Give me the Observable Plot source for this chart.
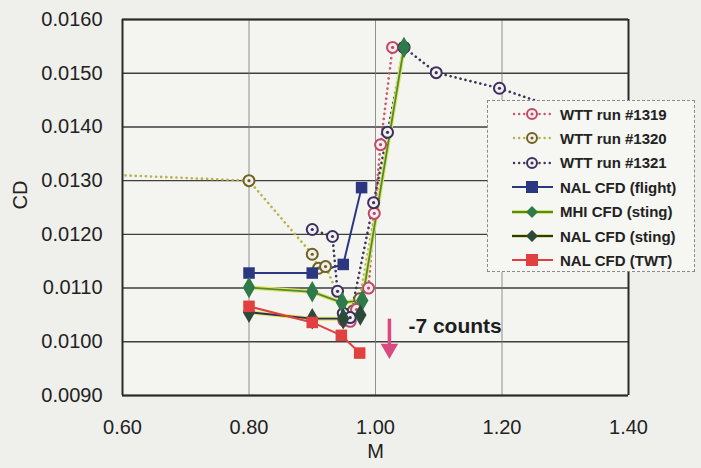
<!DOCTYPE html>
<html><head><meta charset="utf-8">
<script src="https://cdn.jsdelivr.net/npm/d3@7"></script>
<script src="https://cdn.jsdelivr.net/npm/@observablehq/plot@0.6"></script>
<style>
body{margin:0;background:#efefec;}
#wrap{position:relative;width:701px;height:468px;font-family:"Liberation Sans",Arial,sans-serif;}
#legend{position:absolute;left:487px;top:100px;width:206px;height:170px;border:1px dashed #8a8a8a;background:#f6f6f3;}
.row{position:absolute;left:0;height:24px;display:flex;align-items:center;font-weight:bold;font-size:15px;color:#222;}
.row svg{margin-right:4px;}
</style></head><body><div id="wrap"><div id="chart"></div><div id="legend"></div></div>
<script>
// ---- ticks ----
const xTicks = [0.60, 0.80, 1.00, 1.20, 1.40];
const yTicks = [0.0090, 0.0100, 0.0110, 0.0120, 0.0130, 0.0140, 0.0150, 0.0160];

// ---- WTT runs (dotted, open circles) ----
const wtt1319_M  = [0.950, 0.960, 0.970, 0.989, 0.998, 1.008, 1.027];
const wtt1319_CD = [0.01040, 0.01038, 0.01060, 0.01100, 0.01239, 0.01367, 0.01548];

const wtt1320_M  = [0.50, 0.80, 0.90, 0.910, 0.921, 0.955, 0.965, 0.975, 1.045];
const wtt1320_CD = [0.01315, 0.01300, 0.01163, 0.01137, 0.01140, 0.01050, 0.01058, 0.01080, 0.01548];

const wtt1321_M  = [0.90, 0.932, 0.940, 0.949, 0.960, 0.997, 1.019, 1.045, 1.096, 1.196, 1.30];
const wtt1321_CD = [0.01209, 0.01196, 0.01094, 0.01053, 0.01045, 0.01259, 0.01390, 0.01548, 0.01501, 0.01472, 0.01430];

// ---- CFD (solid) ----
const nalFlight_M  = [0.80, 0.90, 0.949, 0.978];
const nalFlight_CD = [0.01128, 0.01128, 0.01144, 0.01287];

const mhiSting_M  = [0.80, 0.90, 0.947, 0.979, 1.045];
const mhiSting_CD = [0.01101, 0.01093, 0.01073, 0.01077, 0.01548];

const nalSting_M  = [0.80, 0.90, 0.949, 0.976];
const nalSting_CD = [0.01055, 0.01043, 0.01043, 0.01050];

const nalTWT_M  = [0.80, 0.90, 0.946, 0.975];
const nalTWT_CD = [0.01066, 0.01036, 0.01012, 0.00979];

// ---- annotation ----
const arrowM = 1.022, arrowFrom = 0.01043, arrowTo = 0.00975;
const noteM = 1.052, noteCD = 0.01028, noteText = "-7 counts";

const names = ["WTT run #1319","WTT run #1320","WTT run #1321","NAL CFD (flight)","MHI CFD (sting)","NAL CFD (sting)","NAL CFD (TWT)"];

const zip = (M, CD) => M.map((m, i) => ({M: m, CD: CD[i]}));
const s1319 = zip(wtt1319_M, wtt1319_CD);
const s1320 = zip(wtt1320_M, wtt1320_CD);
const s1321 = zip(wtt1321_M, wtt1321_CD);
const sFlight = zip(nalFlight_M, nalFlight_CD);
const sMHI = zip(mhiSting_M, mhiSting_CD);
const sNALs = zip(nalSting_M, nalSting_CD);
const sTWT = zip(nalTWT_M, nalTWT_CD);

const C = {
  p1319: "#c24a68", l1319: "#c85a6a",
  p1320: "#6e6420", l1320: "#b9b24a",
  p1321: "#3c3060", l1321: "#3e3458",
  flight: "#2c3782",
  mhiLine: "#4f8a3a", mhiGlow: "#e0e45e", mhiPt: "#2f7a4a",
  nsLine: "#2a2f55", nsPt: "#2c4a3a",
  twt: "#e04040",
  arrow: "#d84a80"
};

const dotted = {strokeDasharray: "0.1,5", strokeLinecap: "round", strokeWidth: 2.6};
const circ = (data, col) => [
  Plot.dot(data, {x: "M", y: "CD", r: 5.5, stroke: col, strokeWidth: 2, fill: "#f3efee", clip: true}),
  Plot.dot(data, {x: "M", y: "CD", r: 1.6, fill: col, clip: true})
];

const plot = Plot.plot({
  width: 701, height: 468,
  marginLeft: 122, marginRight: 73, marginTop: 19, marginBottom: 73,
  x: {domain: [0.6, 1.4]},
  y: {domain: [0.009, 0.016]},
  style: {fontFamily: "Liberation Sans, Arial, sans-serif", background: "transparent", color: "#222"},
  marks: [
    Plot.frame({fill: "#f4f4f1"}),
    Plot.gridY(yTicks, {stroke: "#3e3e3e", strokeOpacity: 1, strokeWidth: 1.4}),
    Plot.gridX([0.8, 1.0, 1.2], {stroke: "#777", strokeOpacity: 1, strokeWidth: 0.8}),
    Plot.ruleX([0.6, 1.4], {stroke: "#2a2a2a", strokeWidth: 2}),
    Plot.ruleY([0.009, 0.016], {stroke: "#2a2a2a", strokeWidth: 2}),
    Plot.axisY({ticks: yTicks, tickFormat: d3.format(".4f"), tickSize: 0, tickPadding: 20, fontSize: 20, label: null}),
    Plot.axisX({ticks: xTicks, tickFormat: d3.format(".2f"), tickSize: 0, tickPadding: 24, fontSize: 20, label: null}),
    Plot.text(["CD"], {frameAnchor: "left", dx: -102, dy: 2, rotate: -90, fontSize: 20, fill: "#222"}),
    Plot.text(["M"], {frameAnchor: "bottom", dy: 62, fontSize: 20, fill: "#222"}),
    // WTT lines
    Plot.line(s1320, {x: "M", y: "CD", stroke: C.l1320, ...dotted, clip: true}),
    Plot.line(s1319, {x: "M", y: "CD", stroke: C.l1319, ...dotted, clip: true}),
    Plot.line(s1321, {x: "M", y: "CD", stroke: C.l1321, ...dotted, clip: true}),
    // CFD lines
    Plot.line(sNALs, {x: "M", y: "CD", stroke: C.mhiGlow, strokeWidth: 4}),
    Plot.line(sMHI, {x: "M", y: "CD", stroke: C.mhiGlow, strokeWidth: 4}),
    Plot.line(sNALs, {x: "M", y: "CD", stroke: C.nsLine, strokeWidth: 1.8}),
    Plot.line(sMHI, {x: "M", y: "CD", stroke: C.mhiLine, strokeWidth: 1.8}),
    Plot.line(sFlight, {x: "M", y: "CD", stroke: C.flight, strokeWidth: 2}),
    Plot.line(sTWT, {x: "M", y: "CD", stroke: C.twt, strokeWidth: 2}),
    // markers
    ...circ(s1320, C.p1320),
    ...circ(s1319, C.p1319),
    ...circ(s1321, C.p1321),
    Plot.dot(sFlight, {x: "M", y: "CD", symbol: "square", r: 6.5, fill: C.flight}),
    Plot.dot(sMHI, {x: "M", y: "CD", symbol: "diamond", r: 6.5, fill: C.mhiPt}),
    Plot.dot(sNALs, {x: "M", y: "CD", symbol: "diamond", r: 6.5, fill: C.nsPt}),
    Plot.dot(sTWT, {x: "M", y: "CD", symbol: "square", r: 6.5, fill: C.twt}),
    // annotation
    Plot.link([0], {x1: () => arrowM, x2: () => arrowM, y1: () => arrowFrom, y2: () => arrowTo + 0.0002, stroke: C.arrow, strokeWidth: 3.5}),
    Plot.dot([0], {x: () => arrowM, y: () => arrowTo + 0.00012, symbol: "triangle", r: 6.5, rotate: 180, fill: C.arrow}),
    Plot.text([noteText], {x: () => noteM, y: () => noteCD, textAnchor: "start", fontSize: 21, fontWeight: "bold", fill: "#1e1e1e"})
  ]
});
document.getElementById("chart").append(plot);

// ---- legend ----
const legend = document.getElementById("legend");
const legendSpec = [
  {kind: "wtt", line: C.l1319, pt: C.p1319},
  {kind: "wtt", line: C.l1320, pt: C.p1320},
  {kind: "wtt", line: C.l1321, pt: C.p1321},
  {kind: "square", line: C.flight, pt: C.flight},
  {kind: "diamond", line: C.mhiLine, glow: C.mhiGlow, pt: C.mhiPt},
  {kind: "diamond", line: C.nsLine, glow: C.mhiGlow, pt: C.nsPt},
  {kind: "square", line: C.twt, pt: C.twt}
];
legendSpec.forEach((s, i) => {
  const row = document.createElement("div");
  row.className = "row";
  row.style.top = (1 + i * 24.4) + "px";
  let g = "";
  if (s.kind === "wtt") {
    g = `<line x1="26" y1="12" x2="62" y2="12" stroke="${s.line}" stroke-width="2.4" stroke-dasharray="0.1,5" stroke-linecap="round"/>
         <circle cx="44" cy="12" r="5" fill="#f3efee" stroke="${s.pt}" stroke-width="2"/><circle cx="44" cy="12" r="1.5" fill="${s.pt}"/>`;
  } else {
    if (s.glow) g += `<line x1="24" y1="12" x2="65" y2="12" stroke="${s.glow}" stroke-width="4"/>`;
    g += `<line x1="24" y1="12" x2="65" y2="12" stroke="${s.line}" stroke-width="2"/>`;
    if (s.kind === "square") g += `<rect x="38" y="6" width="12" height="12" fill="${s.pt}"/>`;
    else g += `<path d="M44,6 L50,12 L44,18 L38,12 Z" fill="${s.pt}"/>`;
  }
  row.innerHTML = `<svg width="68" height="24">${g}</svg><span>${names[i]}</span>`;
  legend.append(row);
});
</script>
</body></html>
